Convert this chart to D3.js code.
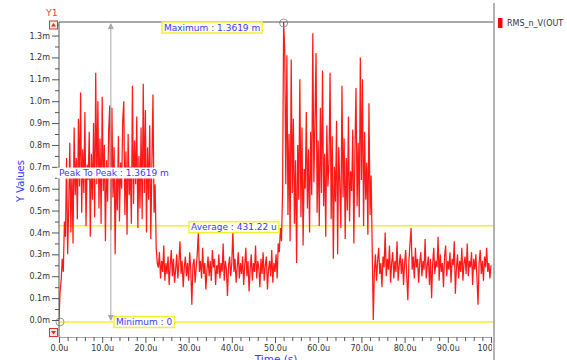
<!DOCTYPE html>
<html><head><meta charset="utf-8">
<script src="https://cdn.jsdelivr.net/npm/d3@7"></script>
<style>body{margin:0;background:#fff}svg{display:block}</style>
</head><body><svg id="c" width="567" height="360"></svg>
<script>
// ---- DATA ----
const seriesName = "RMS_n_V(OUT";
const sampleStep = 0.25; // u
const segmentStarts = [0, 2.25, 22.25, 23, 51, 52.25, 73];
const riseValues = [0.00,0.13,0.18,0.28,0.22,0.45,0.38,0.74,0.30];
const burst1Values = [
0.52,0.81,0.40,0.69,0.35,0.88,0.57,0.74,0.46,0.92,
0.61,1.04,0.49,0.78,0.58,0.95,0.43,0.71,0.64,0.86,
0.38,0.76,0.55,0.90,0.47,1.13,0.62,1.00,0.51,0.83,
0.44,1.02,0.59,0.80,0.36,0.73,0.54,0.87,0.98,0.41,
0.97,0.56,0.79,0.30,0.68,0.50,0.84,0.45,0.72,0.60,
0.91,1.00,0.48,0.77,0.39,0.85,0.57,0.70,0.44,1.07,
0.53,0.82,0.62,0.93,0.42,0.75,0.51,0.88,0.46,1.08,
0.58,0.96,0.40,0.79,0.55,0.89,0.37,0.71,1.03,0.49];
const fall1Values = [0.62,0.33,0.26];
const low1Values = [
0.24,0.31,0.19,0.27,0.22,0.34,0.18,0.26,0.21,0.29,
0.16,0.25,0.32,0.20,0.28,0.17,0.23,0.30,0.19,0.26,
0.36,0.21,0.27,0.15,0.24,0.29,0.20,0.26,0.18,0.31,
0.23,0.07,0.25,0.28,0.17,0.24,0.30,0.40,0.22,0.27,
0.19,0.33,0.21,0.26,0.14,0.23,0.29,0.20,0.27,0.18,
0.32,0.24,0.28,0.16,0.25,0.21,0.30,0.19,0.26,0.22,
0.35,0.18,0.27,0.23,0.11,0.25,0.29,0.20,0.26,0.41,
0.22,0.28,0.17,0.24,0.31,0.19,0.26,0.21,0.29,0.16,
0.25,0.33,0.20,0.27,0.13,0.23,0.30,0.18,0.26,0.22,
0.34,0.19,0.27,0.24,0.15,0.28,0.21,0.31,0.18,0.25,
0.29,0.14,0.23,0.27,0.20,0.32,0.17,0.26,0.22,0.30,
0.19,0.35];
const rise2Values = [0.31,0.42,0.36,0.58,1.3619];
const burst2Values = [
1.23,0.62,1.21,0.48,0.85,0.36,1.19,0.58,0.92,0.44,
0.73,0.26,0.80,0.55,1.10,0.47,0.88,0.34,0.69,0.60,
0.95,0.51,0.78,0.40,0.86,0.57,1.31,0.63,0.90,1.22,
0.49,0.82,0.43,0.97,0.58,1.14,0.52,0.76,0.38,0.89,
0.61,0.72,1.13,0.46,0.84,0.28,0.70,0.54,0.91,0.30,
0.79,0.62,0.42,1.07,0.56,0.83,0.37,0.74,0.50,0.93,
0.45,0.68,0.59,0.87,0.35,0.77,1.06,0.52,0.81,0.47,
1.20,0.64,1.10,0.43,0.86,0.55,0.72,0.39,0.99,0.48,
0.66,0.33,0.00];
const low2Values = [
0.22,0.30,0.18,0.27,0.33,0.21,0.26,0.15,0.29,0.24,
0.40,0.20,0.28,0.23,0.34,0.17,0.26,0.31,0.19,0.27,
0.22,0.36,0.18,0.25,0.30,0.21,0.28,0.16,0.26,0.32,
0.20,0.09,0.27,0.35,0.42,0.23,0.29,0.19,0.33,0.24,
0.28,0.17,0.26,0.31,0.20,0.27,0.23,0.37,0.19,0.25,
0.29,0.16,0.28,0.10,0.26,0.33,0.21,0.27,0.24,0.38,
0.18,0.30,0.22,0.26,0.15,0.29,0.34,0.20,0.27,0.23,
0.31,0.17,0.28,0.25,0.36,0.12,0.24,0.30,0.19,0.27,
0.22,0.33,0.18,0.26,0.29,0.21,0.35,0.20,0.27,0.24,
0.31,0.16,0.28,0.23,0.30,0.19,0.07,0.26,0.32,0.21,
0.27,0.18,0.29,0.24,0.33,0.22,0.26,0.19,0.25];
const segments = [riseValues, burst1Values, fall1Values, low1Values, rise2Values, burst2Values, low2Values];

const yTickValues = [0,0.1,0.2,0.3,0.4,0.5,0.6,0.7,0.8,0.9,1.0,1.1,1.2,1.3];
const yTickLabels = ["0.0m","0.1m","0.2m","0.3m","0.4m","0.5m","0.6m","0.7m","0.8m","0.9m","1.0m","1.1m","1.2m","1.3m"];
const xTickValues = [0,10,20,30,40,50,60,70,80,90,100];
const xTickLabels = ["0.0u","10.0u","20.0u","30.0u","40.0u","50.0u","60.0u","70.0u","80.0u","90.0u","100.0u"];

const maxValue = 1.3619, maxTime = 52.0;
const minValue = 0, minTime = 0;
const avgValue = 0.43122;
const peakMarkerTime = 12.0;
const labelMax = "Maximum : 1.3619 m";
const labelMin = "Minimum : 0";
const labelAvg = "Average : 431.22 u";
const labelP2P = "Peak To Peak : 1.3619 m";

// ---- BUILD ----
const points = [];
segments.forEach((vals, s) => vals.forEach((v, k) => points.push([segmentStarts[s] + k * sampleStep, v])));

const svg = d3.select("#c");
const P = {l: 59, r: 493, t: 22, b: 337};
const x = d3.scaleLinear().domain([0, 100]).range([59, 491]);
const y = d3.scaleLinear().domain([-0.0777, maxValue]).range([P.b, P.t]);
const font = "DejaVu Sans, Verdana, sans-serif";
const blue = "#3a3aff";

svg.append("rect").attr("width", 567).attr("height", 360).attr("fill", "#fff");

svg.append("defs").append("clipPath").attr("id", "plotclip")
  .append("rect").attr("x", P.l).attr("y", P.t - 1).attr("width", P.r - P.l).attr("height", P.b - P.t + 1);
svg.select("defs").append("clipPath").attr("id", "xclip")
  .append("rect").attr("x", 0).attr("y", 0).attr("width", 492).attr("height", 360);

// average line & min line (yellow)
const yellow = "#f2f230";
svg.append("line").attr("x1", P.l).attr("x2", P.r).attr("y1", y(avgValue)).attr("y2", y(avgValue))
  .attr("stroke", yellow).attr("stroke-width", 1.5);
svg.append("line").attr("x1", P.l).attr("x2", P.r).attr("y1", y(minValue) + 2).attr("y2", y(minValue) + 2)
  .attr("stroke", yellow).attr("stroke-width", 1.5);

// trace
const line = d3.line().x(d => x(d[0])).y(d => y(d[1]));
svg.append("path").datum(points).attr("clip-path", "url(#plotclip)")
  .attr("d", line).attr("fill", "none").attr("stroke", "#ff0000").attr("stroke-width", 1.25)
  .attr("stroke-opacity", 0.9).attr("stroke-linejoin", "miter");

// peak-to-peak marker
const gray = "#a8a8a8";
const px = x(peakMarkerTime);
svg.append("line").attr("x1", px).attr("x2", px).attr("y1", y(maxValue) + 2).attr("y2", y(minValue))
  .attr("stroke", gray).attr("stroke-width", 1);
svg.append("path").attr("d", `M${px},${y(maxValue)+1} l-3,6 l6,0 z`).attr("fill", gray);
svg.append("path").attr("d", `M${px},${y(minValue)+1} l-3,-6 l6,0 z`).attr("fill", gray);

// circle markers
svg.append("circle").attr("cx", x(maxTime)).attr("cy", y(maxValue) + 1).attr("r", 4)
  .attr("fill", "none").attr("stroke", "#999").attr("stroke-width", 1);
svg.append("circle").attr("cx", x(minTime) + 1).attr("cy", y(minValue) + 2).attr("r", 4)
  .attr("fill", "none").attr("stroke", "#999").attr("stroke-width", 1);

// plot frame
svg.append("line").attr("x1", P.l).attr("x2", P.r).attr("y1", P.t).attr("y2", P.t).attr("stroke", "#555").attr("stroke-width", 1.2);
svg.append("line").attr("x1", 494).attr("x2", 494).attr("y1", 3).attr("y2", 360).attr("stroke", "#999").attr("stroke-width", 1.5);

// axes
const gy = svg.append("g").attr("transform", `translate(${P.l},0)`)
  .call(d3.axisLeft(y).tickValues(yTickValues).tickFormat((d, i) => yTickLabels[i]).tickSize(7).tickSizeOuter(0).tickPadding(2));
const gyMinor = svg.append("g").attr("transform", `translate(${P.l},0)`)
  .call(d3.axisLeft(y).tickValues(yTickValues.map(v => v + 0.05)).tickFormat("").tickSize(4).tickSizeOuter(0));
gyMinor.select(".domain").remove();
const gx = svg.append("g").attr("transform", `translate(0,${P.b})`).attr("clip-path", "url(#xclip)")
  .call(d3.axisBottom(x).tickValues(xTickValues).tickFormat((d, i) => xTickLabels[i]).tickSize(6).tickSizeOuter(0).tickPadding(2));
const minorX = d3.range(0, 100, 2).filter(v => v % 10 !== 0);
const gxMinor = svg.append("g").attr("transform", `translate(0,${P.b})`)
  .call(d3.axisBottom(x).tickValues(minorX).tickFormat("").tickSize(4).tickSizeOuter(0));
gxMinor.select(".domain").remove();
[gy, gyMinor, gx, gxMinor].forEach(g => {
  g.selectAll("line").attr("stroke", "#555");
  g.selectAll(".domain").attr("stroke", "#555");
  g.selectAll("text").attr("font-family", font).attr("font-size", 8).attr("fill", "#333");
});
gx.select(".domain").attr("d", `M${P.l},0H${P.r}`);
gy.select(".domain").attr("d", `M0,${P.t}V${P.b}`);

// scroll arrow boxes
function arrowBox(cy, up) {
  svg.append("rect").attr("x", 49.5).attr("y", cy - 4).attr("width", 8).attr("height", 8)
    .attr("fill", "#fde8e8").attr("stroke", "#e03030").attr("stroke-width", 1);
  svg.append("path").attr("d", up ? `M${53.5},${cy-2} l-2.5,3.5 l5,0 z` : `M${53.5},${cy+2} l-2.5,-3.5 l5,0 z`)
    .attr("fill", "#e03030");
}
arrowBox(25, true);
arrowBox(332.5, false);

// titles
svg.append("text").attr("x", 52).attr("y", 16).attr("text-anchor", "middle")
  .attr("font-family", font).attr("font-size", 9.5).attr("fill", "#e04848").text("Y1");
svg.append("text").attr("transform", "translate(24,181) rotate(-90)").attr("text-anchor", "middle")
  .attr("font-family", font).attr("font-size", 10).attr("fill", blue).text("Y Values");
svg.append("text").attr("x", (P.l + P.r) / 2).attr("y", 363).attr("text-anchor", "middle")
  .attr("font-family", font).attr("font-size", 10.5).attr("fill", blue).text("Time (s)");

// annotation labels
function label(txt, lx, cy, boxed) {
  const t = svg.append("text").attr("x", lx + 2).attr("y", cy + 3.2)
    .attr("font-family", font).attr("font-size", 9).attr("fill", blue).text(txt);
  const bb = t.node().getBBox();
  svg.insert("rect", () => t.node()).attr("x", lx).attr("y", cy - 5.5).attr("width", bb.width + 4).attr("height", 11)
    .attr("fill", boxed ? "#fffff2" : "#fff").attr("stroke", boxed ? yellow : "none").attr("stroke-width", 1.5);
}
label(labelMax, 162, 27.5, true);
label(labelAvg, 189, y(avgValue) + 1.5, true);
label(labelMin, 114, y(minValue) + 2, true);
label(labelP2P, 57, 173, false);

// legend
svg.append("rect").attr("x", 498).attr("y", 18).attr("width", 4.5).attr("height", 10).attr("fill", "#ff0000");
svg.append("text").attr("x", 507).attr("y", 26).attr("font-family", font).attr("font-size", 8)
  .attr("fill", "#333").text(seriesName);
</script></body></html>
